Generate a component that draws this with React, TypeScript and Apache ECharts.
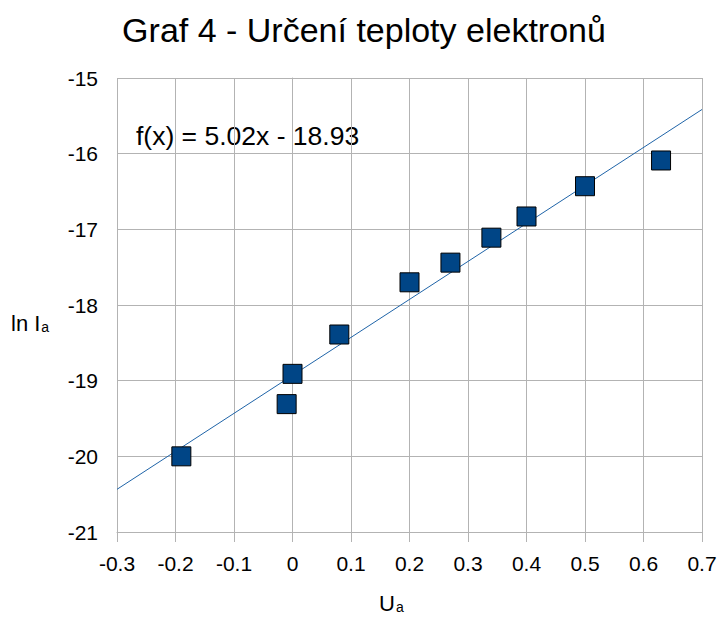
import React, { useEffect, useRef } from "react";
import * as echarts from "echarts";

const uValues = [-0.19, -0.01, 0, 0.08, 0.2, 0.27, 0.34, 0.4, 0.5, 0.63];
const lnIValues = [-20.0, -19.31, -18.91, -18.39, -17.7, -17.44, -17.11, -16.83, -16.43, -16.09];
const trendCoef = [5.02, -18.93];
const trendRange = [-0.3, 0.7];
const titleText = "Graf 4 - Určení teploty elektronů";
const equationText = "f(x) = 5.02x - 18.93";
const xName = ["U", "a"];
const yName = ["ln I", "a"];

export default function App() {
  const ref = useRef<HTMLDivElement>(null);
  useEffect(() => {
    if (!ref.current) return;
    const chart = echarts.init(ref.current, null, { renderer: "svg" });
    const font = "Liberation Sans, Arial, sans-serif";
    const points = uValues.map((u, i) => [u, lnIValues[i]]);
    const trend = trendRange.map((x) => [x, trendCoef[0] * x + trendCoef[1]]);
    const rich = {
      n: { fontFamily: font, fontSize: 22, fill: "#000", color: "#000" },
      s: { fontFamily: font, fontSize: 14, fill: "#000", color: "#000", padding: [8, 0, 0, 1] },
    };
    chart.setOption({
      animation: false,
      backgroundColor: "#ffffff",
      grid: { left: 117, right: 15, top: 78, bottom: 86, containLabel: false, outerBoundsMode: "none" },
      xAxis: {
        type: "value",
        min: -0.3,
        max: 0.7,
        interval: 0.1,
        axisLine: { show: true, lineStyle: { color: "#b3b3b3", width: 1 } },
        axisTick: { show: true, length: 10, lineStyle: { color: "#b3b3b3" } },
        splitLine: { show: true, lineStyle: { color: "#b3b3b3", width: 1 } },
        axisLabel: {
          fontFamily: font,
          fontSize: 21,
          color: "#000",
          margin: 21,
          formatter: (v: number) => String(Math.round(v * 10) / 10),
        },
      },
      yAxis: {
        type: "value",
        min: -21,
        max: -15,
        interval: 1,
        axisLine: { show: true, lineStyle: { color: "#b3b3b3", width: 1 } },
        axisTick: { show: true, length: 10, lineStyle: { color: "#b3b3b3" } },
        splitLine: { show: true, lineStyle: { color: "#b3b3b3", width: 1 } },
        axisLabel: { fontFamily: font, fontSize: 21, color: "#000", margin: 19 },
      },
      graphic: [
        {
          type: "text",
          x: 364,
          y: 30,
          style: {
            text: titleText,
            fontFamily: font,
            fontSize: 34,
            fill: "#000",
            align: "center",
            verticalAlign: "middle",
          },
        },
        {
          type: "text",
          x: 136,
          y: 136,
          style: {
            text: equationText,
            fontFamily: font,
            fontSize: 26.5,
            fill: "#000",
            align: "left",
            verticalAlign: "middle",
          },
        },
        {
          type: "text",
          x: 11,
          y: 323,
          style: {
            text: "{n|" + yName[0] + "}{s|" + yName[1] + "}",
            rich,
            align: "left",
            verticalAlign: "middle",
          },
        },
        {
          type: "text",
          x: 379,
          y: 603,
          style: {
            text: "{n|" + xName[0] + "}{s|" + xName[1] + "}",
            rich,
            align: "left",
            verticalAlign: "middle",
          },
        },
      ],
      series: [
        {
          type: "line",
          data: trend,
          showSymbol: false,
          symbol: "none",
          lineStyle: { color: "#1f64a8", width: 1 },
          silent: true,
          z: 2,
        },
        {
          type: "scatter",
          data: points,
          symbol: "rect",
          symbolSize: 19,
          itemStyle: { color: "#004586", borderColor: "#000", borderWidth: 1, opacity: 1 },
          z: 3,
        },
      ],
    });
    return () => chart.dispose();
  }, []);
  return (
    <div
      ref={ref}
      style={{ position: "fixed", left: 0, top: 0, width: 717, height: 618, background: "#fff" }}
    />
  );
}
